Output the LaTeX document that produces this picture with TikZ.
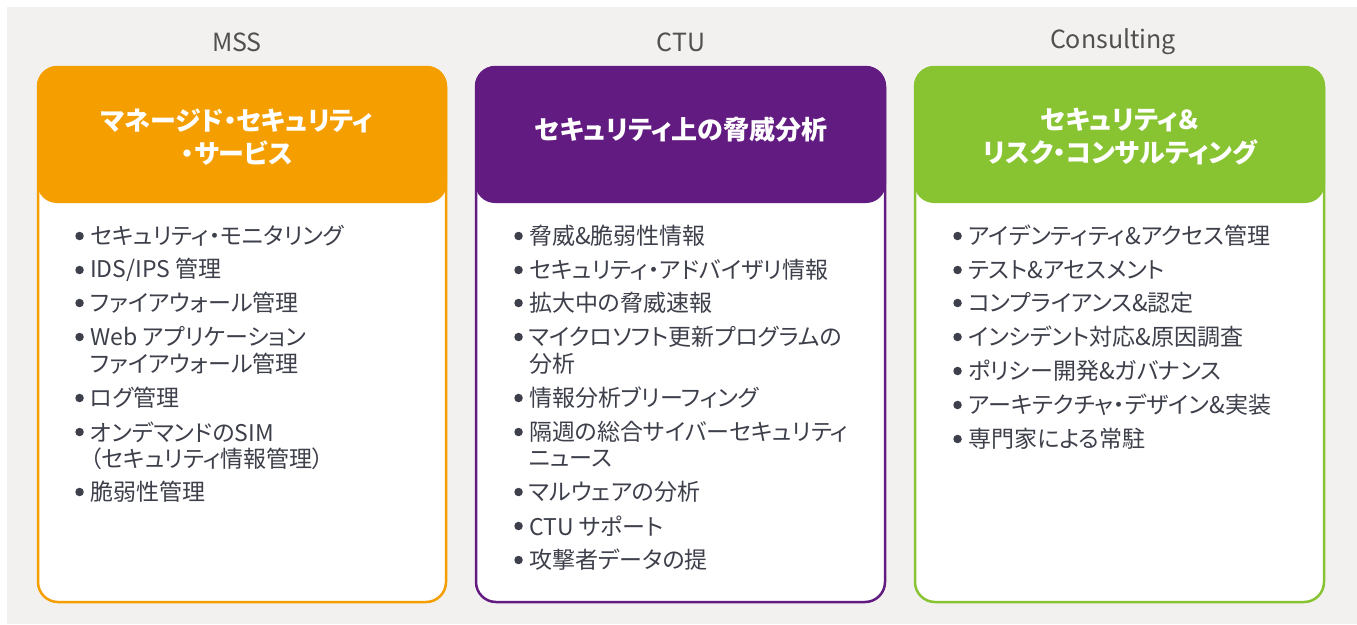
\documentclass[tikz,border=0pt]{standalone}
\usepackage{fontspec}
\setmainfont{Noto Sans CJK JP}[RawFeature=+palt]
\definecolor{bggray}{HTML}{F2F1EF}
\definecolor{mssorange}{HTML}{F59E00}
\definecolor{ctupurple}{HTML}{621B80}
\definecolor{consgreen}{HTML}{88C332}
\definecolor{textgray}{HTML}{3D3F4A}
\definecolor{titlegray}{HTML}{505050}

\tikzset{
  colbox/.style={draw=#1, line width=2.5pt, fill=white, rounded corners=20pt},
  headbox/.style={fill=#1, rounded corners=20pt},
  headtext/.style={text=white, align=center, inner sep=0pt,
    font=\fontsize{26}{33}\selectfont\bfseries},
  coltitle/.style={text=titlegray, inner sep=0pt, font=\fontsize{25}{28}\selectfont},
  bulletdot/.style={circle, fill=textgray, minimum size=8.5pt, inner sep=0pt},
  itemtext/.style={anchor=west, inner sep=0pt, text=textgray,
    font=\fontsize{23}{26}\selectfont},
  item/.style={itemtext, label={[bulletdot, label distance=6pt]left:{}}},
}

\begin{document}
\begin{tikzpicture}[x=1pt, y=-1pt]

  \useasboundingbox (0,0) rectangle (1357,624);
  \fill[bggray] (7,7) rectangle (1357,624);

  % column titles
  \node[coltitle] (msstitle)  at (237,42)  {MSS};
  \node[coltitle] (ctutitle)  at (681,42)  {CTU};
  \node[coltitle] (constitle) at (1113,42) {Consulting};

  % boxes and headers
  \draw[colbox=mssorange]  (38,67)  rectangle (446,602);
  \draw[colbox=ctupurple]  (476,67) rectangle (885,602);
  \draw[colbox=consgreen]  (915,67) rectangle (1324,602);
  \fill[headbox=mssorange] (37,66)  rectangle (447,203);
  \fill[headbox=ctupurple] (475,66) rectangle (886,203);
  \fill[headbox=consgreen] (914,66) rectangle (1325,203);

  \node[headtext] (msshead)  at (237,137)  {マネージド・セキュリティ\\・サービス};
  \node[headtext] (ctuhead)  at (681,130)  {セキュリティ上の脅威分析};
  \node[headtext] (conshead) at (1120,137) {セキュリティ＆\\リスク・コンサルティング};

  % MSS
  \node[item]     (m1)  at (90,236) {セキュリティ・モニタリング};
  \node[item]     (m2)  at (90,270) {IDS/IPS 管理};
  \node[item]     (m3)  at (90,303) {ファイアウォール管理};
  \node[item]     (m4)  at (90,337) {Web アプリケーション};
  \node[itemtext] (m4b) at (90,364) {ファイアウォール管理};
  \node[item]     (m5)  at (90,398) {ログ管理};
  \node[item]     (m6)  at (90,432) {オンデマンドのSIM};
  \node[itemtext] (m6b) at (90,459) {（セキュリティ情報管理）};
  \node[item]     (m7)  at (90,492) {脆弱性管理};

  % CTU
  \node[item]     (c1)  at (529,236) {脅威\&脆弱性情報};
  \node[item]     (c2)  at (529,270) {セキュリティ・アドバイザリ情報};
  \node[item]     (c3)  at (529,303) {拡大中の脅威速報};
  \node[item]     (c4)  at (529,337) {マイクロソフト更新プログラムの};
  \node[itemtext] (c4b) at (529,364) {分析};
  \node[item]     (c5)  at (529,398) {情報分析ブリーフィング};
  \node[item]     (c6)  at (529,432) {隔週の総合サイバーセキュリティ};
  \node[itemtext] (c6b) at (529,459) {ニュース};
  \node[item]     (c7)  at (529,492) {マルウェアの分析};
  \node[item]     (c8)  at (529,526) {CTU サポート};
  \node[item]     (c9)  at (529,560) {攻撃者データの提};

  % Consulting
  \node[item] (s1) at (968,236) {アイデンティティ\&アクセス管理};
  \node[item] (s2) at (968,270) {テスト\&アセスメント};
  \node[item] (s3) at (968,303) {コンプライアンス\&認定};
  \node[item] (s4) at (968,337) {インシデント対応\&原因調査};
  \node[item] (s5) at (968,371) {ポリシー開発\&ガバナンス};
  \node[item] (s6) at (968,405) {アーキテクチャ・デザイン\&実装};
  \node[item] (s7) at (968,439) {専門家による常駐};

\end{tikzpicture}
\end{document}
